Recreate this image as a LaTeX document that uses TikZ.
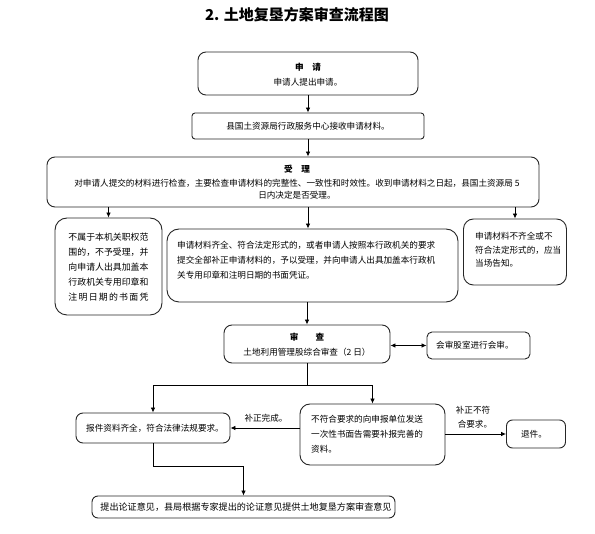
\documentclass[tikz,border=0pt]{standalone}
\usepackage{fontspec}
\setmainfont{Noto Sans CJK SC}
\usetikzlibrary{arrows.meta,calc}
\tikzset{
  box/.style={draw=black!85, line width=0.9pt, rounded corners=8pt, inner sep=0pt},
  txt/.style={inner sep=0pt, font=\fontsize{8.6}{15}\selectfont, align=left},
  ctxt/.style={inner sep=0pt, font=\fontsize{8.6}{15}\selectfont, align=center},
  arr/.style={-{Latex[length=5pt,width=4.5pt]}, line width=0.8pt},
  dbl/.style={{Latex[length=5pt,width=4.5pt]}-{Latex[length=5pt,width=4.5pt]}, line width=0.8pt},
  ln/.style={line width=0.8pt}
}
\newcommand{\hd}[1]{\textbf{#1}}
\begin{document}
\begin{tikzpicture}[x=1pt,y=-1pt]
\useasboundingbox (0,0) rectangle (595,534);
% title
\node[inner sep=0pt, font=\fontsize{15}{18}\selectfont\bfseries] (title) at (297,15) {2. 土地复垦方案审查流程图};
% boxes
\node[box, minimum width=220pt, minimum height=43pt] (b1) at (308,73.5) {};
\node[ctxt] (t1) at (308,74.5) {\hd{申\quad 请}\\申请人提出申请。};
\node[box, rounded corners=3pt, minimum width=232pt, minimum height=26pt] (b2) at (308,126) {};
\node[ctxt] (t2) at (308,126.5) {县国土资源局行政服务中心接收申请材料。};
\node[box, minimum width=492pt, minimum height=50pt] (b3) at (293,182) {};
\node[ctxt, font=\fontsize{8.6}{12.5}\selectfont] (t3) at (297,182) {\hd{受\quad 理}\\[1.5pt]对申请人提交的材料进行检查，主要检查申请材料的完整性、一致性和时效性。收到申请材料之日起，县国土资源局 5\\日内决定是否受理。};
\node[box, rounded corners=12pt, minimum width=107pt, minimum height=97pt] (b4) at (108.5,266.5) {};
\node[txt, font=\fontsize{8.9}{15}\selectfont] (t4) at (108.5,267) {不属于本机关职权范\\围的，不予受理，并\\向申请人出具加盖本\\行政机关专用印章和\\\makebox[80pt][s]{注\hfill 明\hfill 日\hfill 期\hfill 的\hfill 书\hfill 面\hfill 凭}};
\node[box, rounded corners=12pt, minimum width=291pt, minimum height=73pt] (b5) at (312.5,265.5) {};
\node[txt, anchor=west] (t5) at (177,260) {申请材料齐全、符合法定形式的，或者申请人按照本行政机关的要求\\提交全部补正申请材料的，予以受理，并向申请人出具加盖本行政机\\关专用印章和注明日期的书面凭证。};
\node[box, rounded corners=10pt, minimum width=103pt, minimum height=66pt] (b6) at (515,252) {};
\node[txt, anchor=west, font=\fontsize{8.6}{13.5}\selectfont] (t6) at (475,250) {申请材料不齐全或不\\符合法定形式的，应当\\当场告知。};
\node[box, minimum width=166pt, minimum height=38pt] (b7) at (307,344) {};
\node[ctxt] (t7) at (307,345) {\hd{审\qquad 查}\\土地利用管理股综合审查（2 日）};
\node[box, rounded corners=5pt, minimum width=103pt, minimum height=27pt] (b8) at (478.5,345.5) {};
\node[txt, anchor=west] (t8) at (436,345.5) {会审股室进行会审。};
\node[box, rounded corners=7pt, minimum width=154pt, minimum height=30pt] (b9) at (153,428) {};
\node[txt, anchor=west] (t9) at (86,428) {报件资料齐全，符合法律法规要求。};
\node[box, rounded corners=10pt, minimum width=145pt, minimum height=61pt] (b10) at (372.5,434.5) {};
\node[txt, anchor=west] (t10) at (311,434) {不符合要求的向申报单位发送\\一次性书面告需要补报完善的\\资料。};
\node[box, rounded corners=6pt, minimum width=59pt, minimum height=28pt] (b11) at (536,434) {};
\node[ctxt] (t11) at (534,434) {退件。};
\node[box, rounded corners=6pt, minimum width=303pt, minimum height=22pt] (b12) at (243.5,507) {};
\node[ctxt, font=\fontsize{9.1}{12}\selectfont] (t12) at (246,507) {提出论证意见，县局根据专家提出的论证意见提供土地复垦方案审查意见};
% labels
\node[txt] (l1) at (266,418) {补正完成。};
\node[txt, font=\fontsize{8.6}{14}\selectfont] (l2) at (474,417) {补正不符\\\ 合要求。};
% connectors
\coordinate (cx) at (308,0);
\draw[arr] (b1.south) -- (b2.north);
\draw[arr] (b2.south -| cx) -- (b3.north -| cx);
\draw[arr] (b3.south -| b4.north) -- (b4.north);
\draw[arr] (b3.south -| cx) -- (b5.north -| cx);
\draw[arr] (b3.south -| b6.north) -- (b6.north);
\draw[arr] (b5.south -| b7.north) -- (b7.north);
\draw[dbl] (b8.west -| b7.east) -- (b8.west);
\coordinate (j1) at (307,385);
\draw[ln] (b7.south) -- (j1);
\draw[arr] (j1) -| (b9.north);
\draw[arr] (j1) -| (b10.north);
\draw[arr] (b10.west |- b9.east) -- (b9.east);
\draw[arr] (b10.east |- b11.west) -- (b11.west);
\coordinate (j2) at (153,466);
\draw[arr] (b9.south) -- (j2) -| (b12.north);
\end{tikzpicture}
\end{document}
